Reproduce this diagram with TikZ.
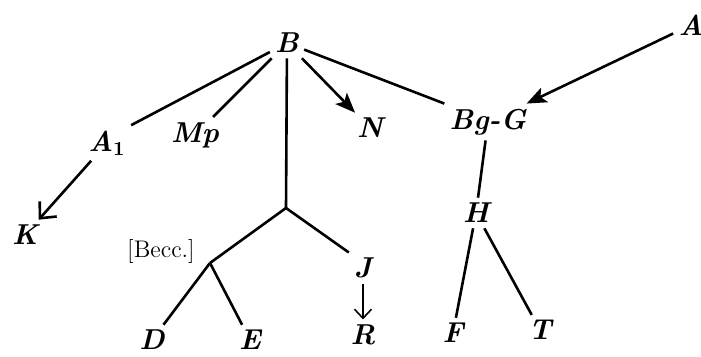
\documentclass[tikz,border=0pt]{standalone}
\usepackage{tikz}
\usetikzlibrary{arrows.meta}

\begin{document}
\begin{tikzpicture}[x=0.5pt,y=-0.5pt,
lbl/.style={font=\Large\bfseries\itshape,inner sep=2.5pt},
edge/.style={line width=1.3pt},
arrow/.style={edge,-{Stealth[length=3.5mm,width=2.8mm,inset=0.8mm]}},
barb/.style={edge,-{Straight Barb[length=2.2mm,width=4mm]}},
thinbarb/.style={line width=0.8pt,-{Straight Barb[length=1.6mm,width=3mm]}}
]
\useasboundingbox (0,0) rectangle (701,357);
% labels
\node[lbl] (b) at (287,43) {B};
\node[lbl] (a1) at (107,143) {A$_{\mathbf{1}}$};
\node[lbl] (mp) at (195,135) {Mp};
\node[lbl] (n) at (370,128) {N};
\node[lbl] (bgg) at (488,122) {Bg-G};
\node[lbl] (a) at (691,25) {A};
\node[lbl] (k) at (25,235) {K};
\node[font=\large,inner sep=1pt] (beccl) at (161,252) {[Becc.]};
\node[lbl] (d) at (152,340) {D};
\node[lbl] (e) at (250,340) {E};
\node[lbl] (j) at (363,268) {J};
\node[lbl] (r) at (363,335) {R};
\node[lbl] (h) at (476,213) {H};
\node[lbl] (f) at (453,333) {F};
\node[lbl] (t) at (540,330) {T};
% branch points
\coordinate (fork) at (286,208);
\coordinate (becc) at (210,263);
% connectors
\draw[edge] (b) -- (a1.north east);
\draw[edge] (b) -- (mp);
\draw[arrow] (b) -- (n);
\draw[edge] (b) -- (bgg.north west);
\draw[arrow] (a) -- (bgg);
\draw[barb] (a1) -- (k);
\draw[edge] (b) -- (fork);
\draw[edge] (fork) -- (becc);
\draw[edge] (fork) -- (j.north west);
\draw[edge] (becc) -- (d);
\draw[edge] (becc) -- (e);
\draw[thinbarb] (j) -- (r);
\draw[edge] (bgg) -- (h);
\draw[edge] (h) -- (f);
\draw[edge] (h) -- (t);
\end{tikzpicture}
\end{document}
